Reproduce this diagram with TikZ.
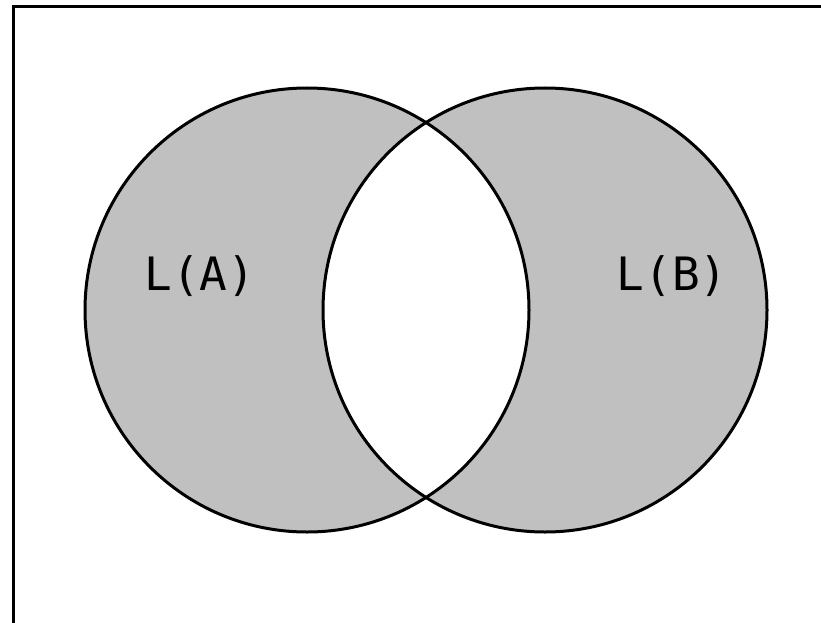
\documentclass[tikz,border=0pt]{standalone}
\usepackage{fontspec}
\newfontfamily\monofont{DejaVu Sans Mono}
\definecolor{setgray}{HTML}{C0C0C0}
\begin{document}
\begin{tikzpicture}[x=1pt,y=-1pt,
  outline/.style={line width=3pt, draw=black},
  setlabel/.style={font=\monofont\fontsize{46}{46}\selectfont, anchor=base, inner sep=0pt}]
\useasboundingbox (0,0) rectangle (821,623);
\fill[white] (0,0) rectangle (821,623);
\begin{scope}
\clip (0,0) rectangle (821,623);
\draw[line width=3.3pt] (13.5,630) -- (13.5,6.5) -- (830,6.5);
\end{scope}
\coordinate (ca) at (307,310);
\coordinate (cb) at (545,310);
\fill[setgray] (ca) circle[radius=222];
\fill[setgray] (cb) circle[radius=222];
\begin{scope}
\clip (ca) circle[radius=222];
\fill[white] (cb) circle[radius=222];
\end{scope}
\draw[outline] (ca) circle[radius=222];
\draw[outline] (cb) circle[radius=222];
\node[setlabel] (la) at (200,290) {L(A)};
\node[setlabel] (lb) at (672,290) {L(B)};
\end{tikzpicture}
\end{document}
